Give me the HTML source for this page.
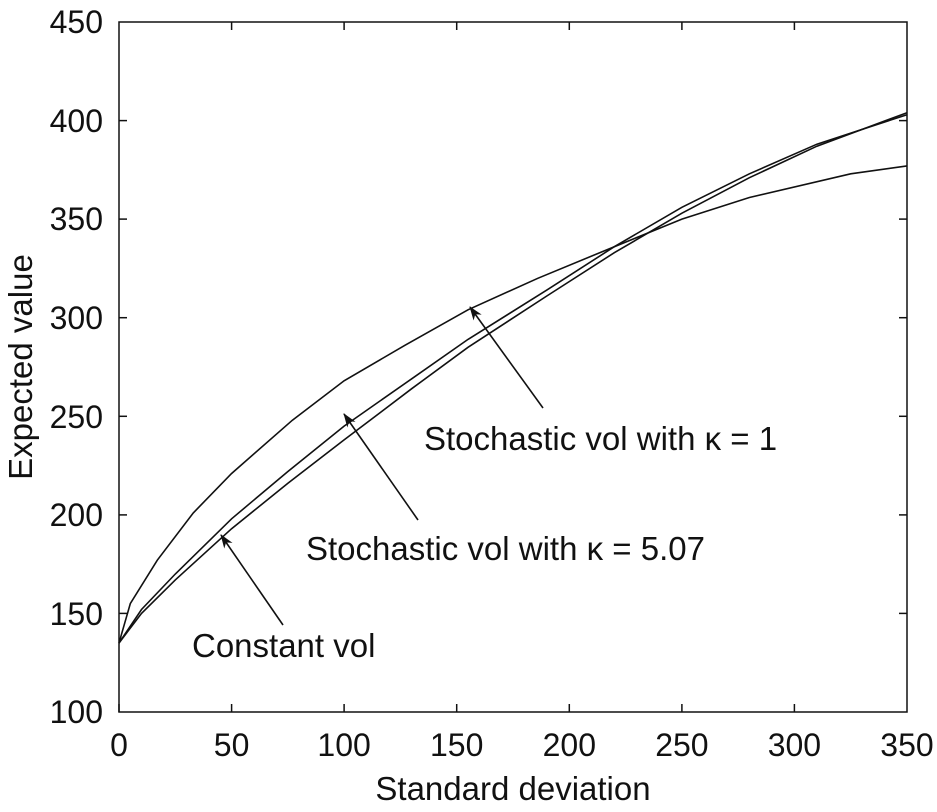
<!DOCTYPE html>
<html><head><style>
html,body{margin:0;padding:0;background:#fff;}
svg text{font-family:"Liberation Sans",sans-serif;fill:#111;}
</style></head><body>
<svg width="937" height="807" viewBox="0 0 937 807" xmlns="http://www.w3.org/2000/svg">
<defs>
<marker id="ah" markerWidth="14" markerHeight="10" refX="13" refY="5" orient="auto" markerUnits="userSpaceOnUse">
<path d="M0,0 L14,5 L0,10 L4,5 Z" fill="#111"/>
</marker>
</defs>
<rect x="119" y="22" width="788" height="690" fill="none" stroke="#111" stroke-width="1.5"/>
<g stroke="#111" stroke-width="1.5">
<line x1="119" y1="712" x2="119" y2="704"/><line x1="231.6" y1="712" x2="231.6" y2="704"/><line x1="344.1" y1="712" x2="344.1" y2="704"/><line x1="456.7" y1="712" x2="456.7" y2="704"/><line x1="569.3" y1="712" x2="569.3" y2="704"/><line x1="681.9" y1="712" x2="681.9" y2="704"/><line x1="794.4" y1="712" x2="794.4" y2="704"/>
<line x1="231.6" y1="22" x2="231.6" y2="30"/><line x1="344.1" y1="22" x2="344.1" y2="30"/><line x1="456.7" y1="22" x2="456.7" y2="30"/><line x1="569.3" y1="22" x2="569.3" y2="30"/><line x1="681.9" y1="22" x2="681.9" y2="30"/><line x1="794.4" y1="22" x2="794.4" y2="30"/>
<line x1="119" y1="613.4" x2="127" y2="613.4"/><line x1="119" y1="514.9" x2="127" y2="514.9"/><line x1="119" y1="416.3" x2="127" y2="416.3"/><line x1="119" y1="317.7" x2="127" y2="317.7"/><line x1="119" y1="219.1" x2="127" y2="219.1"/><line x1="119" y1="120.6" x2="127" y2="120.6"/>
<line x1="907" y1="613.4" x2="899" y2="613.4"/><line x1="907" y1="514.9" x2="899" y2="514.9"/><line x1="907" y1="416.3" x2="899" y2="416.3"/><line x1="907" y1="317.7" x2="899" y2="317.7"/><line x1="907" y1="219.1" x2="899" y2="219.1"/><line x1="907" y1="120.6" x2="899" y2="120.6"/>
</g>
<g font-size="32" text-anchor="end">
<text x="103" y="723">100</text><text x="103" y="625">150</text><text x="103" y="526">200</text><text x="103" y="428">250</text><text x="103" y="329">300</text><text x="103" y="230">350</text><text x="103" y="132">400</text><text x="103" y="33">450</text>
</g>
<g font-size="32" text-anchor="middle">
<text x="119" y="756">0</text><text x="231.6" y="756">50</text><text x="344.1" y="756">100</text><text x="456.7" y="756">150</text><text x="569.3" y="756">200</text><text x="681.9" y="756">250</text><text x="794.4" y="756">300</text><text x="907" y="756">350</text>
</g>
<g font-size="33" text-anchor="middle">
<text x="513" y="800">Standard deviation</text>
<text transform="translate(32,367) rotate(-90)">Expected value</text>
</g>
<g fill="none" stroke="#111" stroke-width="1.6">
<polyline id="a" points=""/>
<polyline id="b" points=""/>
<polyline id="c" points=""/>
<line x1="283" y1="625" x2="221" y2="535" marker-end="url(#ah)"/>
<line x1="418" y1="520" x2="344" y2="414" marker-end="url(#ah)"/>
<line x1="543" y1="408" x2="470" y2="307" marker-end="url(#ah)"/>
</g>
<g font-size="33">
<text x="424" y="450">Stochastic vol with κ = 1</text>
<text x="306" y="560">Stochastic vol with κ = 5.07</text>
<text x="192" y="657">Constant vol</text>
</g>
<script>
function pts(d){return d.map(p=>(119+p[0]*788/350).toFixed(1)+","+(712-(p[1]-100)*690/350).toFixed(1)).join(" ");}
document.getElementById("a").setAttribute("points",pts([[0,135],[5,155],[17,177],[33,201],[50,221],[77,248],[100,268],[127,286],[155,304],[186,320],[220,336],[250,350],[280,361],[325,373],[350,377]]));
document.getElementById("b").setAttribute("points",pts([[0,135],[10,152],[25,170],[50,198],[75,222],[100,245],[130,269],[155,289],[190,314],[220,336],[250,356],[280,373],[310,388],[350,403]]));
document.getElementById("c").setAttribute("points",pts([[0,135],[10,150],[25,167],[50,193],[75,216],[100,238],[130,264],[155,285],[190,311],[220,333],[250,353],[280,371],[310,387],[350,404]]));
</script>
</svg>
</body></html>
